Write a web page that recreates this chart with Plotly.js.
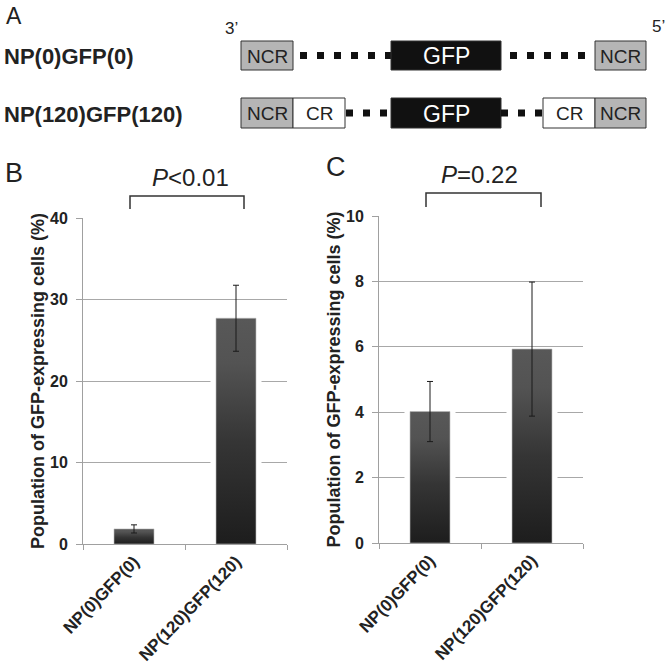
<!DOCTYPE html>
<html>
<head>
<meta charset="utf-8">
<script src="https://cdn.plot.ly/plotly-3.0.1.min.js"></script>
<style>
  body { margin: 0; background: #fff; }
  #fig { width: 666px; height: 665px; }
</style>
</head>
<body>
<div id="fig"></div>
<script>
// data
var categories = ['NP(0)GFP(0)', 'NP(120)GFP(120)'];
var meanB = [1.85, 27.7];
var errB  = [0.5, 4.05];
var meanC = [4.02, 5.93];
var errC  = [0.92, 2.05];
var pTextB = '<i>P</i>&lt;0.01';
var pTextC = '<i>P</i>=0.22';
var yTitle = 'Population of GFP-expressing cells (%)';

var W = 666, H = 665;
var FONT = 'Liberation Sans, Arial, sans-serif';
function px(x) { return x / W; }
function py(y) { return 1 - y / H; }

var barHalf = 0.196;   // half bar width in category units
var glowHalf = 0.25;   // white halo that cuts the gridlines

// build the bar polygons from the values
function barTraces(means, errs, xa, ya) {
  var out = [];
  for (var i = 0; i < means.length; i++) {
    var v = means[i];
    out.push({
      x: [i - glowHalf, i - glowHalf, i + glowHalf, i + glowHalf, i - glowHalf],
      y: [0, v, v, 0, 0],
      xaxis: xa, yaxis: ya,
      type: 'scatter', mode: 'lines', fill: 'toself',
      fillcolor: '#ffffff', line: {width: 0}, hoverinfo: 'skip', showlegend: false
    });
    out.push({
      x: [i - barHalf, i - barHalf, i + barHalf, i + barHalf, i - barHalf],
      y: [0, v, v, 0, 0],
      xaxis: xa, yaxis: ya,
      type: 'scatter', mode: 'lines', fill: 'toself',
      fillcolor: '#3a3a3a',
      fillgradient: {
        type: 'vertical',
        colorscale: [[0, '#1d1d1d'], [0.45, '#353535'], [0.8, '#535353'], [1, '#585858']]
      },
      line: {width: 0.6, color: '#b8b8b8'},
      name: categories[i], hoverinfo: 'name+y', showlegend: false
    });
  }
  // error bars
  out.push({
    x: [0, 1], y: means, xaxis: xa, yaxis: ya,
    type: 'scatter', mode: 'markers',
    marker: {size: 2, color: 'rgba(0,0,0,0)'},
    error_y: {type: 'data', array: errs, visible: true, color: '#1a1a1a', thickness: 1, width: 3},
    hoverinfo: 'skip', showlegend: false
  });
  return out;
}

var data = barTraces(meanB, errB, 'x', 'y').concat(barTraces(meanC, errC, 'x2', 'y2'));

function xAxis(x0, x1, anchor) {
  return {
    domain: [px(x0), px(x1)], anchor: anchor,
    range: [-0.5, 1.5], fixedrange: true,
    tickmode: 'array', tickvals: [0, 1], ticktext: categories,
    ticks: '', tickangle: -46,
    tickfont: {family: FONT, size: 17, weight: 'bold', color: '#222'},
    minor: {tickmode: 'array', tickvals: [-0.5, 0.5, 1.5], ticks: 'outside', ticklen: 5, tickcolor: '#a0a0a0', showgrid: false},
    showline: true, linecolor: '#a0a0a0', linewidth: 1,
    showgrid: false, zeroline: false, automargin: false
  };
}
function yAxis(y0, y1, anchor, top, step) {
  return {
    domain: [py(y1), py(y0)], anchor: anchor,
    range: [0, top], dtick: step, fixedrange: true,
    ticks: 'outside', ticklen: 6, tickcolor: '#a0a0a0', ticklabelstandoff: 5,
    tickfont: {family: FONT, size: 16, weight: 'bold', color: '#222'},
    showline: true, linecolor: '#a0a0a0', linewidth: 1,
    showgrid: true, gridcolor: '#a8a8a8', gridwidth: 1,
    zeroline: false, automargin: false,
    title: {text: yTitle, standoff: 0, font: {family: FONT, size: 18, weight: 'bold', color: '#222'}}
  };
}

// panel A schematic
var shapes = [];
var annotations = [];
function box(x0, y0, x1, y1, fill) {
  shapes.push({type: 'rect', xref: 'paper', yref: 'paper',
    x0: px(x0), x1: px(x1), y0: py(y1), y1: py(y0),
    fillcolor: fill, line: {color: '#333', width: 1}});
}
function dots(x0, x1, y) {
  shapes.push({type: 'line', xref: 'paper', yref: 'paper',
    x0: px(x0), x1: px(x1), y0: py(y), y1: py(y),
    line: {color: '#111', width: 7, dash: '7px,10px'}});
}
function label(text, x, y, size, opts) {
  opts = opts || {};
  annotations.push({
    text: text, xref: 'paper', yref: 'paper', x: px(x), y: py(y),
    xanchor: opts.xanchor || 'center', yanchor: 'middle', showarrow: false,
    font: {family: FONT, size: size, color: opts.color || '#222', weight: opts.weight || 'normal'}
  });
}
function bracket(x0, x1, yTop, yLeg) {
  shapes.push({type: 'path', xref: 'paper', yref: 'paper',
    path: 'M' + px(x0) + ',' + py(yLeg) + ' L' + px(x0) + ',' + py(yTop) +
          ' L' + px(x1) + ',' + py(yTop) + ' L' + px(x1) + ',' + py(yLeg),
    line: {color: '#333', width: 1.5}});
}

// row 1: NP(0)GFP(0)
box(241, 41, 293, 70, '#b5b5b5');
dots(300, 391, 55.5);
box(391, 41, 501, 70, '#111');
dots(510, 595, 55.5);
box(595, 41, 646, 70, '#b5b5b5');
// row 2: NP(120)GFP(120)
box(241, 98, 293, 128, '#b5b5b5');
box(293, 98, 345, 128, '#ffffff');
dots(346, 391, 113);
box(391, 98, 501, 128, '#111');
dots(501, 543, 113);
box(543, 98, 595, 128, '#ffffff');
box(595, 98, 646, 128, '#b5b5b5');

label('A', 4, 16, 23, {xanchor: 'left'});
label('3’', 232, 28, 17);
label('5’', 658, 26, 17);
label('NP(0)GFP(0)', 2, 56, 22, {xanchor: 'left', weight: 'bold'});
label('NP(120)GFP(120)', 2, 115, 22, {xanchor: 'left', weight: 'bold'});
label('NCR', 267, 56, 19);
label('GFP', 446, 56, 23, {color: '#fff'});
label('NCR', 620.5, 56, 19);
label('NCR', 267, 113.5, 19);
label('CR', 319, 113.5, 19);
label('GFP', 446, 113.5, 23, {color: '#fff'});
label('CR', 569, 113.5, 19);
label('NCR', 620.5, 113.5, 19);

// panel letters and p values
label('B', 3, 173, 27, {xanchor: 'left'});
label('C', 324, 167, 27, {xanchor: 'left'});
label(pTextB, 190, 177, 24);
label(pTextC, 479, 175, 24);
bracket(130, 244, 196, 209);
bracket(426, 541, 193, 207);

var layout = {
  width: W, height: H,
  margin: {l: 0, r: 0, t: 0, b: 0},
  paper_bgcolor: '#fff', plot_bgcolor: 'rgba(0,0,0,0)',
  font: {family: FONT, color: '#222'},
  showlegend: false,
  xaxis: xAxis(83, 287, 'y'),
  yaxis: yAxis(218, 544, 'x', 40, 10),
  xaxis2: xAxis(379, 583, 'y2'),
  yaxis2: yAxis(216, 543, 'x2', 10, 2),
  shapes: shapes,
  annotations: annotations
};

Plotly.newPlot('fig', data, layout, {displayModeBar: false, staticPlot: true});
</script>
</body>
</html>
